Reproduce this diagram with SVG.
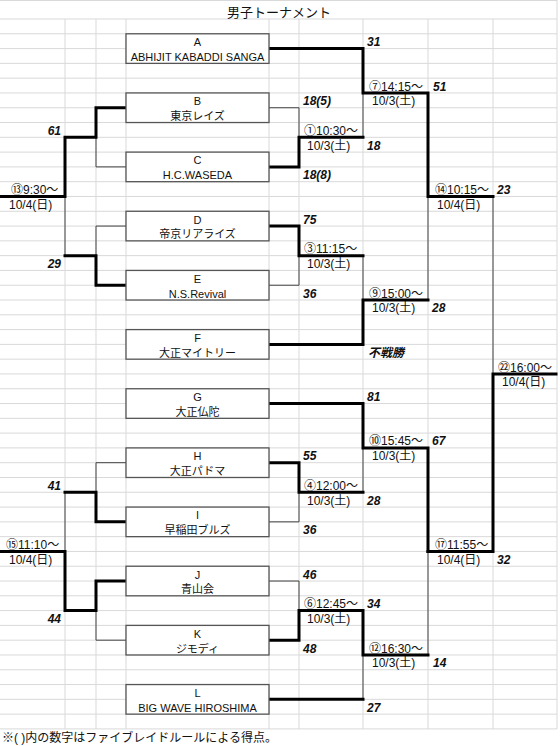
<svg xmlns="http://www.w3.org/2000/svg" width="560" height="746" viewBox="0 0 560 746">
<style>
text{font-family:"Liberation Sans","Noto Sans CJK JP",sans-serif;fill:#111}
.lb{font-size:12px}
.sc{font-size:12px;font-weight:bold;font-style:italic}
.bx{font-size:11px;text-anchor:middle}
.box rect{fill:#fff;stroke:#555;stroke-width:1.3}
.grid{fill:none;stroke:#d9d9d9;stroke-width:1}
.thin{fill:none;stroke:#444;stroke-width:1}
.thick{fill:none;stroke:#000;stroke-width:3;stroke-linejoin:miter;stroke-linecap:square}
</style>
<rect width="560" height="746" fill="#fff"/>
<g id="grid">
<path class="grid" d="M0,0.5H557M0,19H557M0,33.79H557M0,48.58H557M0,63.37H557M0,78.16H557M0,92.95H557M0,107.74H557M0,122.53H557M0,137.32H557M0,152.11H557M0,166.9H557M0,181.69H557M0,196.48H557M0,211.27H557M0,226.06H557M0,240.85H557M0,255.64H557M0,270.43H557M0,285.22H557M0,300.01H557M0,314.8H557M0,329.59H557M0,344.38H557M0,359.17H557M0,373.96H557M0,388.75H557M0,403.54H557M0,418.33H557M0,433.12H557M0,447.91H557M0,462.7H557M0,477.49H557M0,492.28H557M0,507.07H557M0,521.86H557M0,536.65H557M0,551.44H557M0,566.23H557M0,581.02H557M0,595.81H557M0,610.6H557M0,625.39H557M0,640.18H557M0,654.97H557M0,669.76H557M0,684.55H557M0,699.34H557M0,714.13H557M0,728.92H557M65,19V728.92M96,19V728.92M126,19V728.92M269,19V728.92M299,19V728.92M363,19V728.92M428,19V728.92M493,19V728.92M557,0V728.92"/>
</g>
<text x="279" y="16.5" font-size="13" text-anchor="middle">男子トーナメント</text>
<g id="connectors">
<path class="thin" d="M269,107.74H299V137.32M363,137.32V92.95M269,285.22H299V255.64M363,255.64V300.01M428,300.01V196.48M493,196.48V373.96M363,447.91V492.28M269,521.86H299V492.28M269,581.02H299V610.6M363,699.34V654.97M428,654.97V551.44M126,166.9H96V137.32M65,196.48V255.64M126,226.06H96V255.64M126,462.7H96V492.28M65,492.28V551.44M126,640.18H96V610.6"/>
<path class="thick" d="M269,48.58H363V92.95H428V196.48H493"/>
<path class="thick" d="M269,166.9H299V137.32H363"/>
<path class="thick" d="M269,226.06H299V255.64H363"/>
<path class="thick" d="M269,344.38H363V300.01H428"/>
<path class="thick" d="M428,551.44H493V373.96H556"/>
<path class="thick" d="M269,403.54H363V447.91H428V551.44"/>
<path class="thick" d="M269,462.7H299V492.28H363"/>
<path class="thick" d="M269,640.18H299V610.6H363V654.97H428"/>
<path class="thick" d="M269,699.34H363"/>
<path class="thick" d="M126,107.74H96V137.32H65V196.48H1"/>
<path class="thick" d="M126,285.22H96V255.64H65"/>
<path class="thick" d="M126,521.86H96V492.28H65"/>
<path class="thick" d="M126,581.02H96V610.6H65V551.44H1"/>
</g>
<g id="A" class="box"><rect x="126" y="33.79" width="143" height="29.58"/><text class="bx" x="197.5" y="46.1">A</text><text class="bx" x="197.5" y="60.9">ABHIJIT KABADDI SANGA</text></g>
<g id="B" class="box"><rect x="126" y="92.95" width="143" height="29.58"/><text class="bx" x="197.5" y="105.3">B</text><text class="bx" x="197.5" y="120">東京レイズ</text></g>
<g id="C" class="box"><rect x="126" y="152.11" width="143" height="29.58"/><text class="bx" x="197.5" y="164.4">C</text><text class="bx" x="197.5" y="179.2">H.C.WASEDA</text></g>
<g id="D" class="box"><rect x="126" y="211.27" width="143" height="29.58"/><text class="bx" x="197.5" y="223.6">D</text><text class="bx" x="197.5" y="238.4">帝京リアライズ</text></g>
<g id="E" class="box"><rect x="126" y="270.43" width="143" height="29.58"/><text class="bx" x="197.5" y="282.7">E</text><text class="bx" x="197.5" y="297.5">N.S.Revival</text></g>
<g id="F" class="box"><rect x="126" y="329.59" width="143" height="29.58"/><text class="bx" x="197.5" y="341.9">F</text><text class="bx" x="197.5" y="356.7">大正マイトリー</text></g>
<g id="G" class="box"><rect x="126" y="388.75" width="143" height="29.58"/><text class="bx" x="197.5" y="401.1">G</text><text class="bx" x="197.5" y="415.8">大正仏陀</text></g>
<g id="H" class="box"><rect x="126" y="447.91" width="143" height="29.58"/><text class="bx" x="197.5" y="460.2">H</text><text class="bx" x="197.5" y="475">大正パドマ</text></g>
<g id="I" class="box"><rect x="126" y="507.07" width="143" height="29.58"/><text class="bx" x="197.5" y="519.4">I</text><text class="bx" x="197.5" y="534.2">早稲田ブルズ</text></g>
<g id="J" class="box"><rect x="126" y="566.23" width="143" height="29.58"/><text class="bx" x="197.5" y="578.5">J</text><text class="bx" x="197.5" y="593.3">青山会</text></g>
<g id="K" class="box"><rect x="126" y="625.39" width="143" height="29.58"/><text class="bx" x="197.5" y="637.7">K</text><text class="bx" x="197.5" y="652.5">ジモディ</text></g>
<g id="L" class="box"><rect x="126" y="684.55" width="143" height="29.58"/><text class="bx" x="197.5" y="696.9">L</text><text class="bx" x="197.5" y="711.6">BIG WAVE HIROSHIMA</text></g>
<g id="labels">
<text class="lb" x="304" y="134.8">①10:30～</text><text class="lb" x="307" y="149.6">10/3(土)</text>
<text class="sc" x="303" y="105.3">18(5)</text><text class="sc" x="303" y="179.2">18(8)</text>
<text class="lb" x="369" y="90.5">⑦14:15～</text><text class="lb" x="372" y="105.3">10/3(土)</text>
<text class="sc" x="367" y="46.1">31</text><text class="sc" x="367" y="149.6">18</text><text class="sc" x="433" y="90.5">51</text>
<text class="lb" x="435" y="194">⑭10:15～</text><text class="lb" x="437" y="208.8">10/4(日)</text>
<text class="sc" x="497" y="194">23</text><text class="sc" x="432" y="312.3">28</text>
<text class="lb" x="304" y="253.2">③11:15～</text><text class="lb" x="307" y="267.9">10/3(土)</text>
<text class="sc" x="303" y="223.6">75</text><text class="sc" x="303" y="297.5">36</text>
<text class="lb" x="369" y="297.5">⑨15:00～</text><text class="lb" x="372" y="312.3">10/3(土)</text>
<text class="sc" x="368" y="356.7">不戦勝</text>
<text class="lb" x="498" y="371.5">㉒16:00～</text><text class="lb" x="502" y="386.3">10/4(日)</text>
<text class="lb" x="369" y="445.4">⑩15:45～</text><text class="lb" x="372" y="460.2">10/3(土)</text>
<text class="sc" x="367" y="401.1">81</text><text class="sc" x="432" y="445.4">67</text><text class="sc" x="367" y="504.6">28</text>
<text class="lb" x="304" y="489.8">④12:00～</text><text class="lb" x="307" y="504.6">10/3(土)</text>
<text class="sc" x="303" y="460.2">55</text><text class="sc" x="303" y="534.2">36</text>
<text class="lb" x="435" y="549">⑰11:55～</text><text class="lb" x="437" y="563.7">10/4(日)</text>
<text class="sc" x="497" y="563.7">32</text><text class="sc" x="433" y="667.3">14</text>
<text class="lb" x="304" y="608.1">⑥12:45～</text><text class="lb" x="307" y="622.9">10/3(土)</text>
<text class="sc" x="303" y="578.5">46</text><text class="sc" x="303" y="652.5">48</text><text class="sc" x="367" y="608.1">34</text>
<text class="lb" x="369" y="652.5">⑫16:30～</text><text class="lb" x="372" y="667.3">10/3(土)</text>
<text class="sc" x="367" y="711.6">27</text>
<text class="lb" x="11" y="194">⑬9:30～</text><text class="lb" x="9" y="208.8">10/4(日)</text>
<text class="sc" x="61" y="134.8" text-anchor="end">61</text><text class="sc" x="61" y="267.9" text-anchor="end">29</text>
<text class="lb" x="6" y="549">⑮11:10～</text><text class="lb" x="9" y="563.7">10/4(日)</text>
<text class="sc" x="61" y="489.8" text-anchor="end">41</text><text class="sc" x="61" y="622.9" text-anchor="end">44</text>
</g>
<text class="lb" x="2" y="742">※( )内の数字はファイブレイドルールによる得点。</text>
</svg>
